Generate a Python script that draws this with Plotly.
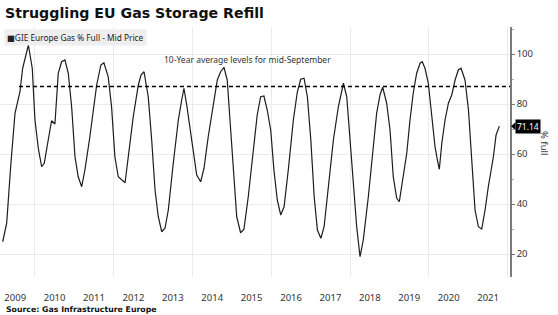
import plotly.graph_objects as go

# ---------------- data ----------------
dates = ["2009-03-08","2009-04-14","2009-05-21","2009-06-30","2009-08-15","2009-09-09","2009-11-01","2009-12-07",
         "2010-01-01","2010-02-01","2010-03-04","2010-03-28","2010-05-04","2010-06-04","2010-07-05","2010-08-05",
         "2010-09-05","2010-10-06","2010-11-06","2010-12-07","2011-01-07","2011-02-06","2011-03-10","2011-04-09",
         "2011-05-25","2011-07-27","2011-09-04","2011-10-02","2011-11-11","2011-12-12","2012-01-12","2012-02-12",
         "2012-04-15","2012-05-15","2012-06-30","2012-08-16","2012-09-10","2012-10-08","2012-11-16","2012-12-18",
         "2013-01-18","2013-02-17","2013-03-21","2013-04-20","2013-05-21","2013-07-06","2013-08-22","2013-09-22",
         "2013-10-13","2013-11-10","2013-12-24","2014-02-08","2014-03-17","2014-04-17","2014-05-26","2014-07-12",
         "2014-08-18","2014-09-18","2014-10-19","2014-11-18","2014-12-13","2015-01-13","2015-02-14","2015-03-22",
         "2015-04-22","2015-06-01","2015-07-17","2015-08-23","2015-09-24","2015-10-24","2015-11-24","2015-12-26",
         "2016-01-25","2016-02-25","2016-03-28","2016-04-28","2016-06-06","2016-07-23","2016-08-29","2016-09-29",
         "2016-10-30","2016-11-30","2017-01-01","2017-02-01","2017-03-03","2017-04-04","2017-05-04","2017-06-13",
         "2017-07-29","2017-09-13","2017-10-15","2017-10-30","2017-11-30","2017-12-31","2018-01-31","2018-03-02",
         "2018-04-02","2018-05-02","2018-06-18","2018-08-03","2018-09-03","2018-10-04","2018-10-29","2018-12-05",
         "2019-01-05","2019-02-04","2019-03-08","2019-04-01","2019-05-08","2019-06-09","2019-07-09","2019-08-08",
         "2019-09-09","2019-10-10","2019-10-31","2019-11-25","2019-12-26","2020-01-26","2020-02-26","2020-03-22",
         "2020-04-06","2020-04-29","2020-05-29","2020-06-29","2020-07-30","2020-08-30","2020-09-29","2020-10-24",
         "2020-11-30","2021-01-01","2021-02-01","2021-03-03","2021-04-03","2021-05-04","2021-06-04","2021-07-04",
         "2021-08-20","2021-09-14","2021-10-14"]

storage_pct = [24.9, 32.3, 55.0, 76.3, 84.9, 94.3, 103.6, 94.3,
               73.6, 62.3, 54.9, 56.3, 65.6, 73.3, 72.0, 92.3,
               96.9, 97.6, 92.3, 78.9, 58.9, 50.9, 46.9, 53.6,
               66.9, 87.6, 95.6, 96.5, 90.9, 78.9, 58.9, 50.9,
               48.5, 58.9, 74.9, 87.6, 91.6, 92.9, 82.9, 65.6,
               45.6, 34.9, 28.9, 30.3, 37.6, 56.3, 73.6, 81.6,
               86.3, 78.9, 65.6, 51.6, 48.9, 54.3, 66.9, 80.3,
               89.6, 92.9, 94.7, 89.6, 74.9, 53.6, 34.9, 28.5,
               29.9, 42.9, 61.6, 75.6, 82.9, 83.2, 77.6, 69.6,
               53.6, 41.6, 35.6, 38.9, 53.6, 73.6, 84.9, 89.9,
               90.3, 82.9, 65.6, 42.9, 29.6, 26.3, 30.9, 46.9,
               65.6, 78.9, 86.3, 88.3, 82.9, 64.3, 49.6, 30.9,
               18.9, 25.6, 42.9, 62.9, 76.3, 83.6, 86.7, 80.3,
               69.6, 50.9, 42.3, 40.9, 50.9, 60.3, 73.6, 84.3,
               92.3, 96.3, 96.9, 94.3, 88.3, 74.9, 62.9, 56.9,
               53.9, 64.3, 73.6, 80.3, 83.6, 89.6, 93.6, 94.3,
               89.6, 77.6, 56.3, 37.6, 30.9, 30.0, 37.6, 46.9,
               58.9, 67.6, 71.14]

avg_dates = ["2009-08-06", "2022-01-21"]
avg_level = [87, 87]

year_labels = [str(y) for y in range(2009, 2022)]
year_tick_dates = [f"{y}-07-02" for y in range(2009, 2022)]
grid_dates = [f"{y}-01-01" for y in range(2010, 2023, 2)]
y_ticks = [20, 40, 60, 80, 100]

last_value = storage_pct[-1]

FONT = "Noto Sans"
TXT = "#333333"

fig = go.Figure()
fig.add_trace(go.Scatter(x=dates, y=storage_pct, mode="lines",
                         line=dict(color="#1c1c1c", width=1.2),
                         name="GIE Europe Gas % Full - Mid Price", showlegend=False))
fig.add_trace(go.Scatter(x=avg_dates, y=avg_level, mode="lines",
                         line=dict(color="#000000", width=1.5, dash="4px,3px"),
                         showlegend=False, hoverinfo="skip"))

fig.update_layout(
    width=558, height=315,
    margin=dict(l=0, r=48, t=27, b=38),
    paper_bgcolor="white", plot_bgcolor="white",
    title=dict(text="<b>Struggling EU Gas Storage Refill</b>",
               font=dict(family="DejaVu Sans", size=14.2, color="#111111"),
               x=5/558, xanchor="left", xref="container",
               y=1-13/315, yanchor="middle", yref="container"),
    xaxis=dict(type="date", range=["2009-02-11", "2022-01-21"],
               tickmode="array", tickvals=year_tick_dates, ticktext=year_labels,
               showgrid=False, zeroline=False, showline=False, ticks="",
               ticklabelstandoff=13,
               tickfont=dict(family=FONT, size=9.5, color=TXT),
               minor=dict(tickmode="array", tickvals=grid_dates, showgrid=True,
                          gridcolor="#ebebeb", gridwidth=1, ticks="")),
    yaxis=dict(side="right", range=[10.8, 110.8], tickmode="array", tickvals=y_ticks,
               showgrid=True, gridcolor="#ebebeb", gridwidth=1, zeroline=False,
               showline=True, linecolor="#7a7a7a", linewidth=1.5,
               ticks="outside", ticklen=3, tickcolor="#7a7a7a", tickwidth=1,
               tickfont=dict(family=FONT, size=9.5, color=TXT),
               minor=dict(dtick=10, tick0=0, ticks="outside", ticklen=2,
                          tickcolor="#aaaaaa", showgrid=False)),
)

annotations = [
    dict(text="<span style='font-family:DejaVu Sans'>■</span>GIE Europe Gas % Full - Mid Price",
         xref="paper", yref="paper", x=4/510, y=1-10/250, xanchor="left", yanchor="middle",
         showarrow=False, bgcolor="#eeeeee", borderpad=2,
         font=dict(family=FONT, size=8.3, color="#222222")),
    dict(text="10-Year average levels for mid-September",
         xref="paper", yref="paper", x=247.5/510, y=1-32/250, xanchor="center", yanchor="middle",
         showarrow=False, font=dict(family=FONT, size=8.5, color="#333333")),
    dict(text="% full", xref="paper", yref="paper", x=545/510, y=1-(143-27)/250,
         xanchor="center", yanchor="middle", textangle=90, showarrow=False,
         font=dict(family=FONT, size=9.5, color=TXT)),
    dict(text=f"{last_value:.2f}", xref="paper", yref="y", x=515/510, y=last_value,
         xanchor="left", yanchor="middle", showarrow=False, bgcolor="#000000",
         borderpad=1, font=dict(family=FONT, size=8.5, color="white")),
    dict(text="<b>Source: Gas Infrastructure Europe</b>", xref="paper", yref="paper",
         x=4/510, y=-(309-277)/250, xanchor="left", yanchor="middle", showarrow=False,
         font=dict(family="DejaVu Sans", size=7.8, color="#111111")),
]
fig.update_layout(annotations=annotations)

fig.add_shape(type="path", xref="paper", yref="y",
              path=f"M {511/510},{last_value} L {515.5/510},{last_value + 1.6} L {515.5/510},{last_value - 1.6} Z",
              fillcolor="#000000", line=dict(width=0), layer="above")

fig.write_html("out.html")
